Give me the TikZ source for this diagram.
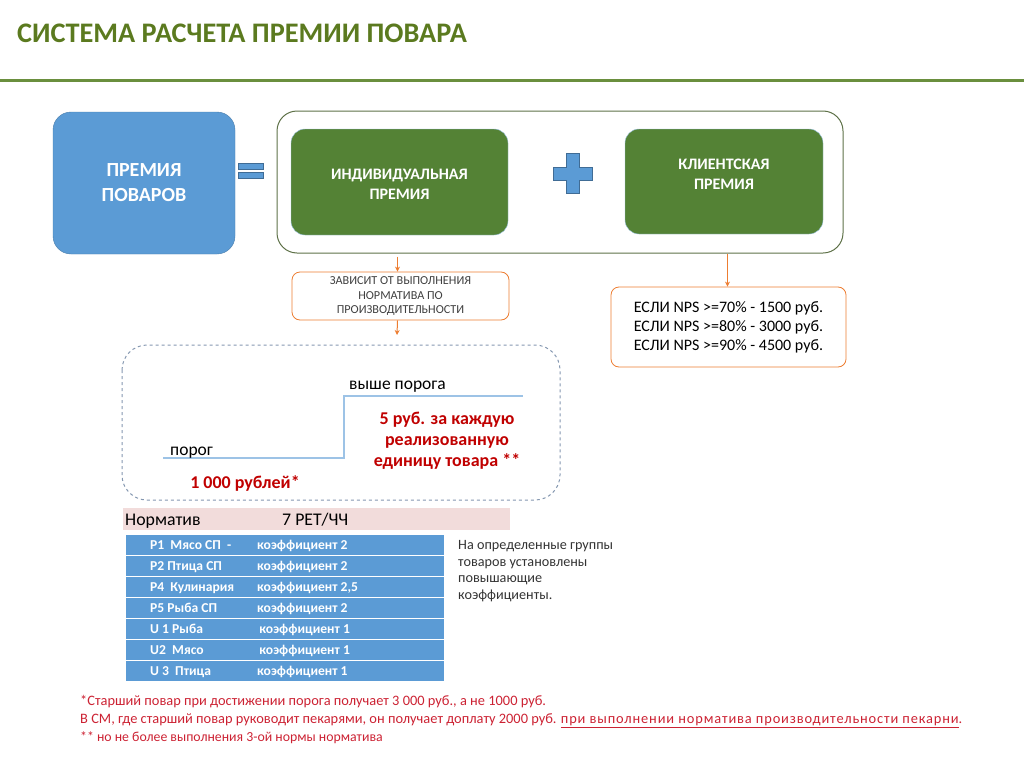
\documentclass[tikz,border=0pt]{standalone}
\usepackage{fontspec}
\setmainfont{Carlito}
\usetikzlibrary{arrows.meta}

\definecolor{blueA}{HTML}{5B9BD5}
\definecolor{greenA}{HTML}{548235}
\definecolor{titleG}{HTML}{5B7A1F}
\definecolor{lineG}{HTML}{6A8F3E}
\definecolor{frameG}{HTML}{5E7148}
\definecolor{orangeA}{HTML}{ED7D31}
\definecolor{redA}{HTML}{C00000}
\definecolor{redB}{HTML}{CC2233}
\definecolor{stepB}{HTML}{9DC3E6}
\definecolor{dashB}{HTML}{8497B0}
\definecolor{pinkA}{HTML}{F2DCDB}

\begin{document}
\begin{tikzpicture}[x=1pt, y=-1pt, >={Stealth[length=5pt, width=5pt]},
  bluebox/.style={draw=blueA!80!black, fill=blueA, rounded corners=18pt, text=white, align=center,
    font=\fontsize{20}{25}\selectfont\bfseries, minimum width=182pt, minimum height=142pt},
  greenbox/.style={draw=blueA!60, fill=greenA, rounded corners=14pt, text=white, align=center,
    font=\fontsize{16}{20}\selectfont\bfseries, minimum width=217pt, minimum height=106pt},
  notebox/.style={draw=orangeA, rounded corners=8pt, fill=white, align=center, line width=0.8pt},
  flow/.style={->, draw=orangeA, line width=1pt},
  rowbox/.style={fill=blueA, draw=white, line width=1pt, minimum width=319pt, minimum height=21pt, inner sep=0pt},
  rowtxt/.style={anchor=base west, text=white, font=\fontsize{13.6}{16}\selectfont\bfseries, inner sep=0pt},
  plain/.style={inner sep=0pt, font=\fontsize{17.5}{21}\selectfont},
  redtxt/.style={inner sep=0pt, text=redA, font=\fontsize{18}{21}\selectfont\bfseries, align=center}]
\useasboundingbox (0,0) rectangle (1024,768);
% title and rule
\node[anchor=base west, inner sep=0pt, text=titleG, font=\fontsize{28.3}{30}\selectfont\bfseries] (title) at (17,43) {СИСТЕМА РАСЧЕТА ПРЕМИИ ПОВАРА};
\draw[lineG, line width=3pt] (0,80) -- (1024,80);
% top row: bonus = individual + client
\node[draw=frameG, rounded corners=20pt, line width=1pt, minimum width=566pt, minimum height=142pt] (frame) at (560,182) {};
\node[bluebox] (total) at (144,183) {ПРЕМИЯ\\ПОВАРОВ};
\fill[blueA, draw=blueA!70!black] (238,163) rectangle (263,169) (238,172) rectangle (263,178);
\node[greenbox] (indiv) at (399.5,182) {};
\node[text=white, align=center, font=\fontsize{16}{20}\selectfont\bfseries] (indivtxt) at (399.5,184) {ИНДИВИДУАЛЬНАЯ\\ПРЕМИЯ};
\fill[blueA, draw=blueA!70!black] (566,153) -- (579,153) -- (579,167) -- (592,167) -- (592,180) -- (579,180)
  -- (579,193) -- (566,193) -- (566,180) -- (553,180) -- (553,167) -- (566,167) -- cycle;
\node[greenbox, minimum width=198pt, minimum height=105pt] (client) at (724,181.5) {};
\node[text=white, align=center, font=\fontsize{16}{20}\selectfont\bfseries] (clienttxt) at (724,174) {КЛИЕНТСКАЯ\\ПРЕМИЯ};
% notes under the boxes
\node[notebox, minimum width=217pt, minimum height=48pt, text=black!75, font=\fontsize{12.2}{14.5}\selectfont] (depend) at (400.5,296)
  {ЗАВИСИТ ОТ ВЫПОЛНЕНИЯ\\НОРМАТИВА ПО\\ПРОИЗВОДИТЕЛЬНОСТИ};
\node[notebox, minimum width=235pt, minimum height=80pt, font=\fontsize{16}{19}\selectfont] (nps) at (728.5,327)
  {ЕСЛИ NPS >=70\% - 1500 руб.\\ЕСЛИ NPS >=80\% - 3000 руб.\\ЕСЛИ NPS >=90\% - 4500 руб.};
\coordinate (below) at (397,335);
\draw[flow] (frame.south -| depend.north) ++(-3,3) -- ([xshift=-3pt]depend.north);
\draw[flow] ([xshift=-3pt]depend.south) -- (below);
\draw[flow] (frame.south -| nps.north) ++(-1,0) -- ([xshift=-1pt]nps.north);
% threshold scheme
\draw[dashB, dashed, rounded corners=25pt, line width=1pt] (122,345) rectangle (560,500);
\draw[stepB, line width=1.2pt] (163,458) -- (344,458) -- (344,396) -- (523,396);
\node[plain, anchor=base west] (thr) at (170,455) {порог};
\node[plain, anchor=base west] (above) at (349,389) {выше порога};
\node[redtxt] (perunit) at (447,441) {5 руб. за каждую\\реализованную\\единицу товара **};
\node[redtxt] (base) at (245,483) {1 000 рублей*};
% norm and coefficients
\fill[pinkA] (123,508) rectangle (510,530);
\node[plain, anchor=base west, font=\fontsize{17.8}{20}\selectfont] (norm) at (125,525) {Норматив};
\node[plain, anchor=base west, font=\fontsize{17.8}{20}\selectfont] (normval) at (282,525) {7 РЕТ/ЧЧ};
\foreach [count=\i] \a/\b in {{Р1\ \ Мясо СП\ \ -}/{коэффициент 2}, {Р2\ Птица СП}/{коэффициент 2},
    {Р4\ \ Кулинария}/{коэффициент 2,5}, {Р5\ Рыба СП}/{коэффициент 2}, {U 1\ Рыба}/{\,коэффициент 1},
    {U2\ \ Мясо}/{\,коэффициент 1}, {U 3\ \ Птица}/{коэффициент 1}} {
  \node[rowbox] (row\i) at (284.5,{544.5+(\i-1)*21}) {};
  \node[rowtxt] at (150,{549.5+(\i-1)*21}) {\a};
  \node[rowtxt] at (257,{549.5+(\i-1)*21}) {\b};
}
\node[anchor=north west, inner sep=0pt, align=left, text=black!80, font=\fontsize{14.2}{16.7}\selectfont] (side) at (458,540)
  {На определенные группы\\товаров установлены\\повышающие\\коэффициенты.};
% footnotes
\node[anchor=north west, inner sep=0pt, align=left, text=redB, font=\fontsize{14.4}{18}\selectfont] (notes) at (80,695.5)
  {*Старший повар при достижении порога получает 3 000 руб., а не 1000 руб.\\
   В СМ, где старший повар руководит пекарями, он получает доплату 2000 руб. {\addfontfeatures{LetterSpace=6}\underline{при выполнении норматива производительности пекарни}.}\\
   {\fontsize{13.8}{18}\selectfont ** но не более выполнения 3-ой нормы норматива}};
\end{tikzpicture}
\end{document}
